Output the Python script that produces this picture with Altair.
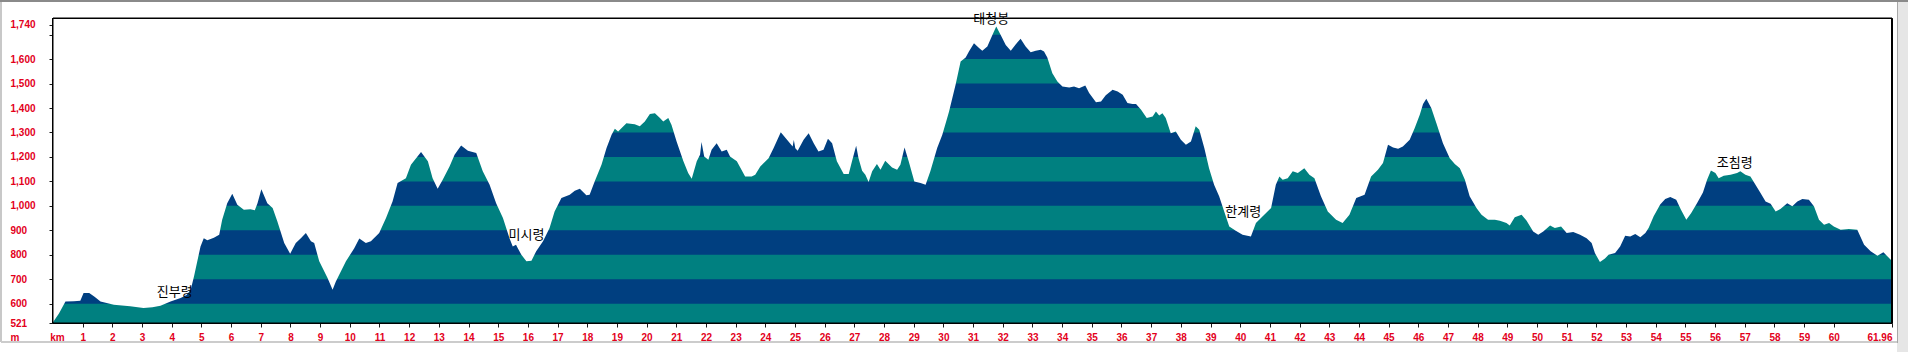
import altair as alt
import pandas as pd

# ---- data ----
km = [0.00, 0.20, 0.42, 0.70, 0.92, 1.03, 1.22, 1.40, 1.60, 2.05, 2.60, 3.05, 3.35, 3.62, 3.96,
      4.30, 4.50, 4.64, 4.75, 4.97, 5.08, 5.20, 5.42, 5.60, 5.70, 5.87, 6.04, 6.21, 6.43, 6.65,
      6.80, 6.89, 7.02, 7.22, 7.40, 7.56, 7.79, 7.99, 8.10, 8.18, 8.35, 8.52, 8.69, 8.80, 8.97,
      9.25, 9.42, 9.53, 9.87, 10.15, 10.32, 10.54, 10.71, 10.99, 11.22, 11.44, 11.61, 11.89,
      12.06, 12.40, 12.63, 12.79, 12.96, 13.13, 13.36, 13.53, 13.75, 13.98, 14.26, 14.48, 14.71,
      14.93, 15.16, 15.38, 15.49, 15.60, 15.66, 15.78, 15.95, 16.12, 16.28, 16.51, 16.73, 16.90,
      17.13, 17.41, 17.58, 17.75, 17.97, 18.08, 18.25, 18.48, 18.65, 18.82, 18.93, 19.04, 19.32,
      19.60, 19.77, 19.94, 20.11, 20.28, 20.45, 20.56, 20.73, 20.84, 21.01, 21.24, 21.40, 21.52,
      21.69, 21.80, 21.85, 21.94, 22.08, 22.19, 22.36, 22.53, 22.70, 22.81, 23.04, 23.32, 23.54,
      23.66, 23.83, 24.11, 24.28, 24.52, 24.78, 24.92, 24.96, 25.01, 25.09, 25.29, 25.46, 25.63,
      25.79, 25.96, 26.11, 26.25, 26.41, 26.64, 26.81, 26.92, 27.06, 27.14, 27.26, 27.37, 27.48,
      27.60, 27.76, 27.88, 28.04, 28.27, 28.44, 28.55, 28.69, 28.83, 29.02, 29.23, 29.40, 29.56,
      29.79, 29.96, 30.13, 30.19, 30.41, 30.58, 30.75, 30.86, 31.03, 31.20, 31.31, 31.48, 31.65,
      31.78, 31.93, 32.10, 32.27, 32.44, 32.60, 32.77, 32.94, 33.11, 33.28, 33.39, 33.50, 33.67,
      33.84, 34.01, 34.24, 34.40, 34.57, 34.78, 34.91, 35.14, 35.31, 35.47, 35.70, 35.87, 36.04,
      36.20, 36.37, 36.49, 36.66, 36.85, 37.05, 37.16, 37.27, 37.38, 37.49, 37.66, 37.83, 38.00,
      38.17, 38.34, 38.50, 38.62, 38.79, 38.95, 39.12, 39.29, 39.46, 39.63, 39.85, 40.08, 40.36,
      40.53, 40.81, 41.04, 41.20, 41.32, 41.43, 41.60, 41.77, 41.94, 42.16, 42.33, 42.50, 42.72,
      42.95, 43.23, 43.45, 43.68, 43.91, 44.19, 44.41, 44.64, 44.81, 44.98, 45.15, 45.32, 45.48,
      45.71, 45.88, 46.05, 46.16, 46.27, 46.44, 46.61, 46.83, 47.06, 47.23, 47.40, 47.57, 47.73,
      47.96, 48.13, 48.35, 48.58, 48.75, 48.97, 49.08, 49.25, 49.48, 49.65, 49.87, 50.04, 50.21,
      50.44, 50.60, 50.81, 51.00, 51.22, 51.45, 51.67, 51.84, 51.95, 52.12, 52.29, 52.41, 52.63,
      52.80, 52.97, 53.14, 53.31, 53.48, 53.65, 53.76, 53.93, 54.15, 54.32, 54.49, 54.69, 54.85,
      55.03, 55.19, 55.39, 55.59, 55.73, 55.86, 56.01, 56.12, 56.29, 56.52, 56.74, 56.85, 57.02,
      57.19, 57.36, 57.53, 57.70, 57.87, 58.04, 58.20, 58.43, 58.60, 58.77, 58.94, 59.16, 59.33,
      59.50, 59.67, 59.84, 60.00, 60.23, 60.51, 60.79, 61.02, 61.24, 61.47, 61.67, 61.86, 61.96]

elev = [524, 560, 609, 610, 612, 644, 644, 628, 609, 596, 589, 582, 585, 592, 609,
        623, 635, 657, 711, 834, 868, 859, 870, 882, 943, 1011, 1049, 1004, 984, 986,
        982, 1011, 1068, 1011, 991, 936, 848, 804, 830, 848, 868, 889, 855, 848, 773,
        705, 657, 691, 773, 827, 866, 848, 855, 889, 950, 1018, 1093, 1113,
        1168, 1220, 1182, 1113, 1070, 1107, 1161, 1209, 1247, 1225, 1216, 1141, 1086,
        1011, 950, 868, 834, 841, 827, 800, 773, 776, 814, 855, 909, 977,
        1032, 1045, 1062, 1070, 1043, 1045, 1100, 1168, 1236, 1291, 1315, 1304, 1338,
        1334, 1325, 1345, 1375, 1379, 1359, 1345, 1359, 1331, 1263, 1182, 1134, 1111,
        1182, 1209, 1261, 1202, 1188, 1229, 1256, 1222, 1229, 1202, 1182, 1120, 1120,
        1127, 1161, 1195, 1236, 1301, 1263, 1243, 1269, 1235, 1225, 1270, 1297, 1256,
        1222, 1229, 1274, 1256, 1182, 1130, 1130, 1182, 1246, 1195, 1143, 1127, 1097,
        1141, 1171, 1148, 1184, 1157, 1148, 1168, 1239, 1182, 1100, 1093, 1086, 1141,
        1236, 1290, 1360, 1386, 1495, 1590, 1607, 1631, 1665, 1645, 1634, 1651, 1699,
        1733, 1699, 1658, 1634, 1661, 1683, 1651, 1628, 1634, 1638, 1631, 1607, 1542,
        1508, 1488, 1484, 1488, 1481, 1492, 1461, 1424, 1427, 1452, 1475, 1468, 1454,
        1420, 1416, 1416, 1393, 1359, 1365, 1386, 1369, 1379, 1359, 1297, 1304, 1270,
        1250, 1263, 1325, 1311, 1236, 1154, 1086, 1039, 977, 916, 898, 882, 875,
        930, 964, 991, 1086, 1120, 1107, 1113, 1141, 1134, 1154, 1127, 1113, 1039,
        977, 943, 930, 964, 1032, 1045, 1120, 1148, 1175, 1250, 1239, 1233, 1243,
        1270, 1318, 1372, 1416, 1438, 1399, 1338, 1256, 1195, 1171, 1154, 1107, 1039,
        991, 964, 943, 943, 939, 930, 920, 953, 964, 939, 895, 882, 895,
        920, 909, 916, 889, 893, 882, 868, 848, 807, 770, 785, 800, 807,
        834, 878, 875, 885, 872, 889, 909, 957, 1005, 1028, 1036, 1025, 984,
        943, 970, 1011, 1055, 1107, 1145, 1134, 1113, 1123, 1127, 1134, 1141, 1127,
        1120, 1086, 1052, 1018, 1009, 977, 987, 1011, 998, 1018, 1028, 1025, 998,
        943, 923, 930, 916, 902, 905, 902, 841, 814, 796, 810, 787, 775]

band_lo = [521, 600, 700, 800, 900, 1000, 1100, 1200, 1300, 1400, 1500, 1600, 1700]
band_tone = ["teal", "blue", "teal", "blue", "teal", "blue", "teal", "blue",
             "teal", "blue", "teal", "blue", "teal"]

label_text = ["진부령", "미시령", "태청봉", "한계령", "조침령"]
label_km = [4.10, 15.95, 31.61, 40.10, 56.66]
label_elev = [649, 882, 1764, 976, 1176]

x_ticks = list(range(1, 61)) + [61.96]
y_ticks = [521, 600, 700, 800, 900, 1000, 1100, 1200, 1300, 1400, 1500, 1600, 1700, 1740]

X_MAX = 61.96
Y_MIN, Y_MAX = 521, 1768
W, H = 1839, 305
RED = "#e3001b"
TEAL, BLUE = "#008080", "#003f80"

profile = pd.DataFrame({"km": km, "elev": elev})
bands = pd.DataFrame({"lo": band_lo, "tone": band_tone})
labels = pd.DataFrame({"name": label_text, "km": label_km, "elev": label_elev})
# plot-frame, taken from the axis extents
box = pd.DataFrame({"x1": [0], "x2": [X_MAX], "y1": [Y_MIN], "y2": [Y_MAX]})
h_edges = pd.DataFrame({"x1": [0, 0], "x2": [X_MAX, X_MAX], "y1": [Y_MAX, Y_MIN]})
v_edges = pd.DataFrame({"x1": [0, X_MAX], "y1": [Y_MIN, Y_MIN], "y2": [Y_MAX, Y_MAX]})

xs = alt.Scale(domain=[0, X_MAX], nice=False, zero=False)
ys = alt.Scale(domain=[Y_MIN, Y_MAX], nice=False, zero=False)

x_axis = alt.Axis(values=x_ticks, format="d", domain=False, grid=False, tickSize=4,
                  tickColor="#1a1a1a", labelPadding=10, labelBaseline="middle",
                  labelFlush=True, labelOverlap=False, labelSeparation=0,
                  labelExpr="datum.value % 1 ? format(datum.value, '.2f') : datum.label",
                  title="km", titleX=4, titleY=14, titleAlign="center",
                  titleBaseline="middle")
y_axis = alt.Axis(values=y_ticks, format=",d", domain=False, grid=False, tickSize=4,
                  tickColor="#1a1a1a", labelPadding=39, labelAlign="left",
                  labelBaseline="middle", labelOverlap=False, labelSeparation=0,
                  labelExpr="datum.value == 1700 ? '' : datum.label",
                  title="m", titleAngle=0, titleX=-43, titleY=319,
                  titleAlign="left", titleBaseline="middle")

# each band runs from its floor to the top; higher bands paint over lower ones
band_layer = alt.Chart(bands).mark_rect().encode(
    x=alt.datum(0, scale=xs, axis=x_axis),
    x2=alt.datum(X_MAX),
    y=alt.Y("lo:Q", scale=ys, axis=y_axis),
    y2=alt.datum(Y_MAX),
    color=alt.Color("tone:N", scale=alt.Scale(domain=["teal", "blue"],
                                              range=[TEAL, BLUE]), legend=None),
    order=alt.Order("lo:Q"),
)

mask = alt.Chart(profile).mark_area(color="white", interpolate="linear", opacity=1).encode(
    x=alt.X("km:Q", scale=xs, axis=x_axis),
    y=alt.Y("elev:Q", scale=ys, axis=y_axis),
    y2=alt.datum(Y_MAX),
)

text_layer = alt.Chart(labels).mark_text(
    font="Noto Sans CJK KR", fontSize=13, color="black", align="center", baseline="middle"
).encode(
    x=alt.X("km:Q", scale=xs, axis=x_axis),
    y=alt.Y("elev:Q", scale=ys, axis=y_axis),
    text="name:N",
)

frame_box = alt.Chart(box).mark_rect(filled=False, stroke="black", strokeWidth=1).encode(
    x=alt.X("x1:Q", scale=xs, axis=x_axis),
    x2="x2:Q",
    y=alt.Y("y1:Q", scale=ys, axis=y_axis),
    y2="y2:Q",
)
frame_h = alt.Chart(h_edges).mark_rule(color="black", strokeWidth=1, yOffset=0.5).encode(
    x=alt.X("x1:Q", scale=xs, axis=x_axis),
    x2="x2:Q",
    y=alt.Y("y1:Q", scale=ys, axis=y_axis),
)
frame_v = alt.Chart(v_edges).mark_rule(color="black", strokeWidth=1, xOffset=-0.5).encode(
    x=alt.X("x1:Q", scale=xs, axis=x_axis),
    y=alt.Y("y1:Q", scale=ys, axis=y_axis),
    y2="y2:Q",
)

# window-like outer border
top_border = alt.Chart(profile).mark_rule(color="#8a8a8a", strokeWidth=2).encode(
    x=alt.value(-53), x2=alt.value(W + 16), y=alt.value(-17)
)
left_border = alt.Chart(profile).mark_rule(color="#c8c8c8", strokeWidth=2).encode(
    x=alt.value(-52), y=alt.value(-16), y2=alt.value(H + 19)
)
right_panel = alt.Chart(profile).mark_rect(color="#e6e6e6").encode(
    x=alt.value(W + 5), x2=alt.value(W + 16), y=alt.value(-16), y2=alt.value(H + 29)
)
right_border = alt.Chart(profile).mark_rule(color="#a8a8a8", strokeWidth=1).encode(
    x=alt.value(W + 5.5), y=alt.value(-16), y2=alt.value(H + 20)
)
bottom_border = alt.Chart(profile).mark_rule(color="#cccccc", strokeWidth=2).encode(
    x=alt.value(-52), x2=alt.value(W + 5), y=alt.value(H + 19)
)

chart = alt.layer(
    band_layer, mask, text_layer, frame_box, frame_h, frame_v,
    top_border, left_border, right_panel, right_border, bottom_border
).properties(
    width=W, height=H,
    autosize=alt.AutoSizeParams(type="none"),
    padding={"left": 53, "top": 18, "right": 16, "bottom": 29},
    background="white",
).configure_view(
    stroke="black", strokeWidth=1
).configure_axis(
    grid=False,
    labelFont="Liberation Sans", labelFontWeight="bold", labelFontSize=10, labelColor=RED,
    titleFont="Liberation Sans", titleFontWeight="bold", titleFontSize=10, titleColor=RED,
)

chart.save("out.html", embed_options={"renderer": "svg", "actions": False})
